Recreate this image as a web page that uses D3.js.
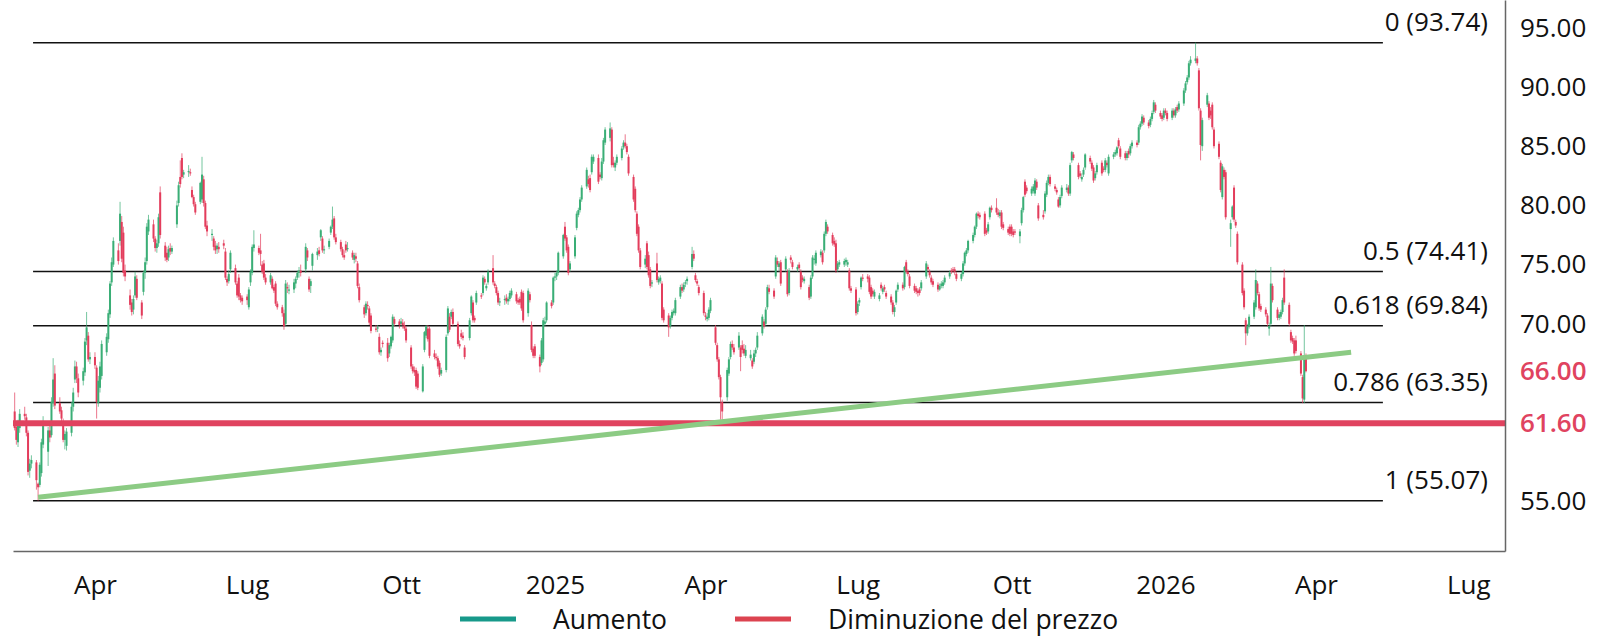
<!DOCTYPE html>
<html>
<head>
<meta charset="utf-8">
<script src="https://cdn.jsdelivr.net/npm/d3@7"></script>
<style>
  html, body { margin: 0; padding: 0; background: #fff; }
  #chart text { font-family: "Open Sans", "Noto Sans", sans-serif; }
</style>
</head>
<body>
<div id="chart"></div>
<script>
// daily candles, one array per month: [open, high, low, close]
const feb24 = [[62.6,64.2,61.0,61.2],[61.3,61.8,59.8,60.2],[60.0,61.9,59.6,61.5],[61.2,62.8,60.8,62.4],[62.4,63.0,61.9,62.2],[62.1,62.4,60.5,60.8],[60.8,61.0,57.2,57.5],[57.6,58.6,57.0,58.2],[58.2,58.9,57.8,58.5],[58.3,58.5,56.0,56.8],[56.5,56.6,55.07,56.2],[56.4,58.3,56.2,58.1],[57.4,60.3,57.1,60.0]];
const mar24 = [[59.8,62.2,59.5,61.5],[59.2,61.3,58.0,61.0],[61.0,61.8,60.0,60.4],[60.6,63.8,60.4,63.4],[63.3,67.1,63.0,65.3],[65.8,66.5,62.8,63.1],[63.3,63.8,62.4,62.6],[62.7,63.0,61.8,62.0],[61.6,62.0,60.0,60.2],[60.2,61.0,59.4,60.7],[59.7,61.2,59.3,60.9],[60.8,63.4,60.5,63.0],[63.0,64.6,62.6,64.2],[65.3,66.9,65.0,66.4],[66.4,66.8,65.0,65.4],[65.4,65.8,63.8,64.2],[65.2,66.3,64.8,66.0],[65.9,68.8,65.6,68.5],[68.6,71.0,68.2,69.7],[69.0,69.3,66.8,67.0],[67.0,67.6,66.6,67.2]];
const apr24 = [[67.2,67.6,66.2,66.5],[66.3,66.5,62.0,63.4],[63.3,65.6,63.0,65.2],[64.6,66.8,64.2,66.4],[65.6,68.6,65.3,68.3],[67.6,69.2,67.3,68.9],[68.7,71.2,68.4,70.9],[70.8,73.6,70.5,73.4],[73.5,75.6,73.2,75.2],[75.0,77.3,74.8,77.0],[76.2,76.8,75.0,75.3],[77.0,80.3,76.6,79.3],[78.6,79.1,75.2,75.5],[77.7,78.2,74.0,74.3],[74.5,75.0,73.6,74.0],[72.4,72.9,71.2,71.6],[71.8,72.1,70.7,71.0],[71.2,72.4,70.8,72.1],[72.4,74.4,72.2,74.0],[73.8,74.1,72.0,72.2],[71.8,72.0,70.4,70.7],[72.7,74.5,72.4,74.3]];
const may24 = [[74.3,75.6,73.8,75.2],[75.3,78.5,75.0,78.2],[77.8,79.2,77.5,78.8],[78.4,78.8,76.9,77.2],[77.2,77.4,76.1,76.4],[76.4,77.1,76.0,76.8],[76.8,79.3,76.5,79.0],[81.1,81.6,77.2,77.5],[76.6,76.9,75.3,75.6],[76.0,76.5,75.2,75.4],[75.6,76.6,75.3,76.3],[76.4,76.8,75.8,76.1],[76.1,76.6,75.9,76.4],[78.4,80.4,78.1,80.0],[80.2,82.0,79.9,81.7],[82.4,83.8,81.5,81.8],[84.0,84.4,82.2,82.4],[82.6,83.0,82.3,82.8],[82.8,83.4,82.4,82.9],[82.8,83.1,82.5,82.7],[81.3,81.6,80.6,80.7],[80.7,80.9,79.9,80.1],[80.1,80.3,79.2,79.4]];
const jun24 = [[80.3,82.0,80.1,81.9],[80.5,84.1,80.2,82.6],[82.2,82.5,79.9,80.2],[80.2,80.4,78.0,78.2],[78.3,78.7,77.4,77.8],[77.6,78.0,77.0,77.6],[77.2,77.4,76.2,76.5],[76.6,77.0,75.9,76.2],[76.3,76.8,75.9,76.6],[76.5,76.9,76.0,76.3],[76.8,77.1,76.3,76.6],[76.1,76.4,73.7,73.9],[73.8,74.0,73.2,73.5],[73.6,74.5,73.4,74.2],[74.6,76.2,74.3,76.0],[74.7,75.0,73.3,73.5],[73.4,73.6,72.2,72.4],[73.9,74.2,72.0,72.3],[72.4,72.6,71.8,72.0],[72.2,72.4,71.6,71.9]];
const jul24 = [[72.3,72.5,71.6,72.0],[71.4,73.1,71.2,72.9],[73.5,74.6,73.2,74.4],[74.3,76.7,74.1,76.5],[76.4,77.9,76.1,76.7],[76.4,76.6,75.8,76.0],[76.2,77.6,74.9,75.9],[75.0,75.3,74.2,74.4],[75.1,75.4,73.7,73.9],[73.9,74.2,73.3,73.5],[73.5,74.3,73.3,74.1],[73.8,74.0,72.9,73.0],[73.1,73.3,72.6,72.8],[73.4,73.6,71.5,71.7],[71.7,71.9,71.2,71.4],[71.4,71.6,70.6,70.9],[70.9,71.2,69.5,69.8],[70.0,73.7,69.8,73.4],[73.1,73.5,72.6,73.0],[72.9,73.3,72.5,72.9],[72.9,73.8,72.6,73.5],[73.4,74.0,73.0,73.8],[73.9,74.5,73.7,74.3]];
const aug24 = [[74.3,74.8,73.9,74.5],[74.5,75.0,74.0,74.3],[74.6,76.8,74.3,76.5],[76.2,76.4,75.3,75.6],[73.8,74.0,72.7,72.9],[73.2,73.8,72.6,73.6],[74.9,76.0,74.5,75.9],[75.8,76.4,75.4,76.1],[76.2,76.5,75.7,75.9],[77.3,78.0,77.0,77.9],[77.2,77.4,76.0,76.2],[76.2,76.6,75.9,76.3],[76.5,77.2,76.3,77.0],[77.7,78.3,77.5,78.2],[78.2,79.9,78.0,78.8],[78.9,79.1,77.1,77.3],[77.3,77.6,76.7,76.9],[76.9,77.1,76.1,76.3],[76.3,76.5,75.6,75.8],[75.8,76.2,75.4,75.6],[76.7,77.0,76.0,76.2],[76.3,76.9,76.1,76.4]];
const sep24 = [[76.0,76.2,75.4,75.6],[75.4,76.0,75.1,75.8],[75.7,76.0,75.2,75.5],[75.1,75.3,73.0,73.2],[73.1,73.4,71.8,72.0],[71.4,71.6,70.5,70.8],[70.9,71.9,70.7,71.7],[71.6,71.9,71.2,71.5],[71.3,71.5,69.9,70.1],[70.7,70.9,69.2,69.4],[69.6,69.9,69.3,69.5],[69.6,69.9,69.3,69.7],[68.9,69.2,67.4,67.6],[67.6,68.0,67.3,67.8],[68.4,68.6,68.0,68.3],[68.4,68.8,66.8,67.1],[67.5,68.4,67.2,68.2],[68.1,69.0,67.9,68.9],[68.6,70.8,68.4,70.6],[70.4,70.6,69.8,70.0],[70.2,70.4,69.6,69.9]];
const oct24 = [[70.0,70.5,69.8,70.2],[70.1,70.4,69.6,69.9],[69.9,70.2,69.4,69.6],[69.6,69.8,68.4,68.6],[68.0,68.2,66.2,66.4],[66.4,66.6,65.8,66.0],[66.1,66.4,65.6,65.9],[66.1,66.3,64.5,64.7],[65.8,66.0,64.4,64.6],[64.3,66.6,64.2,66.4],[67.8,69.4,67.6,69.3],[69.0,69.9,68.8,69.8],[69.6,69.9,68.5,68.7],[69.6,69.8,67.1,67.3],[67.5,67.8,67.0,67.2],[67.2,67.5,66.9,67.1],[67.1,67.3,66.2,66.4],[66.7,66.9,65.5,65.7],[65.8,66.3,65.6,66.1],[66.1,69.1,65.9,68.9],[69.2,71.5,69.0,71.3],[70.6,70.9,69.3,69.5],[70.6,71.2,70.4,71.0]];
const nov24 = [[71.0,71.3,69.8,70.0],[70.0,70.2,68.1,68.3],[68.3,68.6,67.9,68.1],[69.2,69.5,68.7,68.9],[69.0,69.3,68.6,68.8],[68.0,68.2,67.0,67.2],[68.8,70.5,68.6,70.3],[70.9,72.4,70.7,72.3],[71.8,72.0,70.1,70.3],[70.5,70.7,70.1,70.3],[71.8,72.8,71.6,72.6],[72.4,72.6,72.1,72.3],[72.6,74.1,72.4,73.9],[73.8,74.0,73.3,73.5],[73.0,73.4,72.8,73.2],[73.5,74.6,73.3,74.4],[74.7,75.8,73.3,73.5],[73.4,73.6,73.0,73.2],[73.1,73.3,72.4,72.6],[72.6,72.8,71.6,71.8],[71.8,72.2,71.5,71.9]];
const dec24 = [[72.0,72.4,71.6,72.1],[72.2,72.5,71.7,71.9],[71.9,72.3,71.6,72.1],[72.1,72.8,71.9,72.6],[72.4,73.0,72.2,72.8],[72.5,72.7,71.7,71.9],[72.0,72.2,71.6,71.8],[72.1,72.3,71.6,71.8],[72.7,72.9,71.1,71.3],[72.6,72.8,70.1,70.3],[70.9,73.0,70.6,72.8],[72.5,72.7,71.8,72.0],[69.9,70.2,67.6,67.8],[67.9,68.1,67.1,67.3],[68.1,68.3,67.1,67.3],[67.2,67.4,65.9,66.4],[66.7,68.8,66.5,68.6],[67.0,70.5,66.8,70.3],[70.0,70.6,69.8,70.2],[70.3,71.9,70.1,71.8],[71.8,72.0,71.3,71.5],[71.8,74.0,71.6,73.9]];
const jan25 = [[73.9,74.3,73.6,74.0],[74.0,74.5,73.7,74.3],[74.3,76.1,74.1,76.0],[75.7,77.6,75.5,77.5],[78.2,78.6,77.0,77.2],[77.3,77.5,76.0,76.2],[76.5,76.7,74.1,74.3],[74.6,75.3,74.4,75.1],[75.7,77.5,75.5,77.3],[78.1,79.5,77.9,79.3],[79.2,79.8,79.0,79.6],[79.6,80.7,79.4,80.5],[80.5,81.7,80.3,81.5],[81.6,83.2,81.4,83.0],[82.2,82.5,81.5,81.8],[82.3,82.6,81.1,81.3],[82.8,84.3,82.6,84.1],[83.7,84.3,83.5,84.1],[84.0,84.3,81.8,82.0],[82.6,82.8,82.2,82.4],[82.3,84.0,82.1,83.7],[83.7,85.7,83.5,85.5],[85.3,86.6,85.1,86.4]];
const feb25 = [[85.7,87.0,85.4,86.5],[86.4,86.6,83.2,83.4],[83.6,84.1,83.2,83.4],[83.2,83.8,82.9,83.6],[83.6,84.3,83.4,84.1],[84.0,85.0,83.8,84.8],[84.9,85.5,84.7,85.3],[85.3,86.0,84.8,85.0],[85.0,85.2,84.3,84.5],[84.1,84.3,82.5,82.7],[82.4,82.6,80.3,80.5],[81.4,81.6,79.4,79.6],[79.3,79.5,77.4,77.6],[78.2,78.4,76.0,76.2],[76.2,76.4,74.6,74.8],[75.0,75.8,74.7,75.5],[76.8,77.0,74.6,74.8],[75.8,76.1,73.9,74.1],[74.6,74.8,73.0,73.2],[73.4,73.7,73.1,73.5]];
const mar25 = [[75.1,76.0,73.5,73.7],[73.5,74.0,73.3,73.8],[73.6,74.1,73.4,73.9],[73.4,73.6,70.3,70.5],[71.2,71.4,70.1,70.3],[70.7,70.9,68.9,69.7],[69.8,70.7,69.6,70.5],[70.5,71.2,70.3,71.0],[70.9,71.3,70.7,71.1],[70.9,72.2,70.7,72.0],[72.3,73.3,72.1,73.1],[73.1,73.4,72.6,72.8],[72.9,73.5,72.7,73.3],[73.4,73.7,73.1,73.5],[73.6,74.0,73.3,73.8],[74.8,76.5,74.6,75.9],[75.9,76.2,75.3,75.5],[74.1,74.3,73.5,73.7],[73.6,73.8,73.2,73.4],[73.1,73.3,72.4,72.6],[72.6,72.8,70.7,70.9]];
const apr25 = [[70.7,71.0,70.3,70.6],[70.4,70.9,70.2,70.6],[70.5,71.4,70.3,71.2],[71.1,72.2,70.9,72.0],[69.7,69.9,68.2,68.4],[68.2,68.4,66.8,67.0],[67.0,67.2,65.3,65.5],[65.5,65.7,61.9,63.8],[63.4,63.6,61.5,62.6],[63.8,66.3,63.5,66.1],[65.8,67.2,65.6,67.0],[67.2,68.5,67.0,68.3],[68.3,68.6,67.8,68.0],[68.0,68.3,67.4,67.6],[68.0,69.3,67.8,69.0],[68.0,68.2,66.0,67.2],[68.2,68.6,67.5,67.8],[67.9,68.3,67.3,67.5],[67.3,68.2,67.1,67.8],[67.1,67.8,66.9,67.4],[66.9,67.1,66.2,66.4],[66.8,67.8,66.6,67.5]];
const may25 = [[67.5,68.0,67.2,67.8],[68.0,69.3,67.8,69.0],[69.2,70.8,69.0,70.6],[70.2,70.4,69.6,69.8],[70.0,71.4,69.8,71.2],[71.4,73.3,71.2,73.1],[73.0,73.3,72.5,72.7],[72.8,73.0,72.1,72.3],[74.0,75.8,73.8,75.6],[75.3,75.6,74.8,75.0],[74.8,75.3,74.4,75.1],[75.2,75.4,73.2,73.4],[74.6,75.7,74.4,75.5],[74.4,74.6,72.3,72.5],[72.6,74.7,72.4,74.5],[75.6,75.8,75.1,75.4],[75.2,75.4,74.6,74.8],[74.6,75.0,74.4,74.8],[75.0,75.2,74.5,74.7],[74.4,74.6,72.9,73.1],[73.9,74.1,73.5,73.7],[73.6,74.0,73.4,73.8]];
const jun25 = [[73.1,73.3,72.0,72.2],[72.3,74.1,72.1,73.9],[74.0,75.8,73.8,75.6],[75.4,75.8,75.0,75.5],[75.1,76.2,74.9,76.0],[75.8,76.3,75.6,76.1],[76.0,76.2,75.0,75.2],[76.2,77.8,76.0,77.6],[77.6,78.8,77.4,78.6],[78.2,78.4,77.6,77.8],[77.5,77.7,76.6,76.8],[77.0,77.3,76.5,76.7],[76.8,77.1,74.3,74.5],[74.6,75.3,74.4,75.1],[75.0,75.4,74.8,75.2],[75.0,75.5,74.8,75.3],[75.2,75.6,74.9,75.4],[75.0,75.4,74.8,75.2],[74.5,74.7,72.8,73.0],[73.0,73.2,72.6,72.8],[72.9,73.1,70.7,70.9]];
const jul25 = [[71.0,71.9,70.8,71.7],[71.8,72.2,71.5,72.0],[73.1,74.0,72.9,73.9],[73.9,74.2,73.6,73.8],[74.0,74.2,73.5,73.8],[73.9,74.1,72.5,72.7],[73.1,73.3,72.1,72.3],[72.8,73.0,72.3,72.5],[72.3,72.9,72.1,72.7],[72.1,72.6,71.9,72.4],[73.3,73.5,72.8,73.0],[72.7,73.2,72.5,73.0],[73.1,73.3,72.7,72.9],[72.6,72.8,72.1,72.3],[72.3,72.5,71.6,71.8],[71.8,72.0,70.8,71.0],[71.0,71.6,70.6,71.4],[71.8,72.9,71.6,72.8],[72.9,73.5,72.7,73.3],[73.3,73.5,72.8,73.0],[73.1,74.9,72.9,74.8],[75.2,75.4,74.2,74.4],[74.4,74.6,74.0,74.2]];
const aug25 = [[74.0,74.2,73.0,73.2],[73.2,73.4,72.6,72.8],[73.0,73.2,72.5,72.7],[72.8,73.0,72.3,72.6],[72.9,73.1,72.4,72.6],[73.0,73.7,72.8,73.5],[74.0,75.3,73.8,75.1],[74.8,75.0,74.4,74.6],[74.4,74.6,73.9,74.1],[73.9,74.1,73.3,73.5],[73.6,73.8,73.1,73.3],[73.3,73.5,72.7,72.9],[72.9,73.4,72.8,73.2],[73.2,73.6,73.0,73.4],[73.2,73.7,73.0,73.5],[73.5,74.1,73.3,73.9],[74.0,74.5,73.8,74.3],[74.5,74.7,74.2,74.4],[74.6,74.8,74.3,74.5],[74.6,74.8,74.1,74.4],[74.2,74.4,73.6,73.8]];
const sep25 = [[73.8,74.4,73.6,74.2],[74.2,75.3,74.0,75.1],[75.1,76.1,74.9,76.0],[75.9,76.4,75.7,76.2],[76.2,77.1,76.0,77.0],[77.0,77.7,76.8,77.5],[77.5,78.3,77.3,78.2],[78.2,79.4,78.0,79.3],[79.3,79.5,78.9,79.1],[79.2,79.4,78.8,79.0],[79.3,79.5,77.4,77.6],[77.9,78.1,77.5,77.7],[77.8,78.6,77.6,78.4],[79.0,79.9,78.8,79.8],[79.8,80.0,79.4,79.6],[79.8,80.6,79.2,79.4],[79.4,79.7,79.0,79.2],[79.1,79.6,78.9,79.4],[79.4,79.6,78.0,78.2],[78.4,78.6,77.9,78.1],[78.0,78.2,77.5,77.7],[78.2,78.4,77.4,77.6]];
const oct25 = [[78.2,78.4,77.4,77.6],[77.8,78.0,77.3,77.5],[77.8,78.0,77.5,77.7],[77.4,78.0,76.8,77.8],[78.5,79.8,78.3,79.6],[79.6,80.8,79.4,80.7],[82.0,82.2,80.7,80.9],[81.5,81.7,81.0,81.2],[81.0,81.6,80.8,81.4],[81.2,81.8,81.0,81.6],[81.0,82.3,80.8,82.1],[82.0,82.2,81.3,81.5],[80.0,80.2,78.7,78.9],[79.2,79.6,78.8,79.0],[79.5,81.2,79.3,81.0],[80.9,82.1,80.7,81.9],[81.9,82.6,81.7,82.4],[82.4,82.6,81.6,81.8],[81.6,81.8,81.2,81.4],[81.3,81.5,80.9,81.1],[80.5,80.7,79.8,79.9],[80.0,80.9,79.8,80.7],[80.8,81.7,80.6,81.5]];
const nov25 = [[81.3,81.8,81.1,81.5],[81.5,81.7,80.8,81.0],[81.0,83.6,80.8,83.4],[83.8,84.6,83.6,84.5],[84.3,84.5,83.8,84.0],[83.4,83.6,82.2,82.4],[82.7,82.9,82.3,82.5],[82.2,82.7,82.0,82.4],[82.6,83.2,82.4,83.0],[83.2,84.4,83.0,84.3],[84.0,84.2,83.5,83.7],[83.6,83.8,82.9,83.1],[83.2,83.4,81.9,82.1],[82.3,82.9,82.1,82.7],[82.8,83.6,82.6,83.4],[83.6,83.8,82.5,82.7],[83.1,83.3,82.8,83.0],[83.0,84.0,82.8,83.8],[83.6,83.8,83.2,83.4],[82.7,84.3,82.5,84.1]];
const dec25 = [[84.1,84.5,83.9,84.3],[84.3,84.7,84.1,84.5],[84.4,85.0,84.2,84.9],[85.5,85.7,84.8,85.0],[84.8,85.0,83.9,84.1],[84.4,84.6,83.8,84.0],[84.0,84.6,83.8,84.4],[84.6,84.8,84.0,84.3],[84.4,85.2,84.2,85.0],[85.0,85.5,84.8,85.3],[85.3,85.5,84.9,85.1],[85.3,86.8,85.1,86.6],[86.6,87.1,86.4,86.9],[86.9,87.7,86.7,87.5],[87.4,87.6,86.8,87.0],[87.0,87.2,86.5,86.7],[86.8,87.5,86.6,87.3],[87.3,88.0,87.1,87.8],[87.9,88.9,87.7,88.7],[88.5,88.7,87.8,88.0],[87.8,88.0,87.3,87.5],[87.6,87.8,87.1,87.3],[87.4,88.2,87.2,88.0]];
const jan26 = [[88.0,88.2,87.6,87.8],[87.8,88.0,87.1,87.3],[87.4,88.2,87.2,88.0],[88.0,88.2,87.4,87.6],[87.6,88.3,87.4,88.1],[88.3,88.5,87.8,88.0],[88.1,88.8,87.9,88.6],[88.6,89.9,88.4,89.7],[89.7,90.5,89.5,90.3],[90.4,91.0,90.2,90.8],[90.8,92.2,90.6,92.0],[92.0,92.6,91.8,92.3],[92.2,93.74,92.0,92.4],[92.4,92.6,91.8,92.0],[91.4,91.6,88.0,88.2],[88.0,88.2,83.8,85.1],[85.0,87.4,84.6,87.2],[88.5,89.5,88.3,89.3],[88.6,88.8,87.2,87.4],[88.0,88.3,87.3,87.6],[88.5,88.7,86.4,86.6],[86.4,86.6,84.8,85.0]];
const feb26 = [[85.2,85.4,83.9,84.1],[83.6,83.8,81.1,81.3],[80.7,83.5,80.5,83.3],[83.0,83.2,82.2,82.4],[82.8,83.0,78.8,79.0],[78.0,78.8,76.5,78.5],[79.0,80.0,78.8,79.9],[81.5,81.7,78.6,78.8],[78.6,78.8,78.1,78.3],[77.6,77.8,75.0,75.2],[75.0,75.2,72.4,72.6],[72.8,73.0,71.2,71.4],[70.3,70.5,68.2,69.2],[69.2,70.0,69.0,69.8],[69.8,70.8,69.6,70.6],[70.6,72.0,70.4,71.8],[71.4,74.6,71.2,73.7],[73.4,73.6,72.4,72.6],[72.5,72.7,71.1,71.3],[71.5,71.7,71.0,71.2]];
const mar26 = [[71.2,71.4,70.6,70.8],[70.7,70.9,69.8,70.0],[69.6,70.1,69.0,69.8],[70.0,74.8,69.8,73.4],[73.2,73.4,71.8,72.0],[71.2,71.4,70.3,70.5],[70.5,71.0,70.3,70.8],[70.6,71.2,70.4,71.0],[71.0,72.2,70.8,72.0],[73.9,74.6,71.6,71.8],[71.6,71.8,69.8,70.0],[69.3,69.5,68.4,68.6],[68.8,69.0,68.3,68.5],[68.6,68.8,67.3,67.5],[68.6,69.0,67.5,67.7],[67.5,67.7,65.6,65.8],[65.5,65.7,63.3,63.7],[63.6,69.9,63.3,67.1],[67.2,67.5,65.9,66.0]];

// first trading day of each month block
const monthStarts = ["2024-02-13","2024-03-01","2024-04-01","2024-05-01","2024-06-01","2024-07-01","2024-08-01","2024-09-01","2024-10-01","2024-11-01","2024-12-01",
  "2025-01-01","2025-02-01","2025-03-01","2025-04-01","2025-05-01","2025-06-01","2025-07-01","2025-08-01","2025-09-01","2025-10-01","2025-11-01","2025-12-01",
  "2026-01-01","2026-02-01","2026-03-01"];
const monthBlocks = [feb24,mar24,apr24,may24,jun24,jul24,aug24,sep24,oct24,nov24,dec24,
  jan25,feb25,mar25,apr25,may25,jun25,jul25,aug25,sep25,oct25,nov25,dec25,
  jan26,feb26,mar26];

// fibonacci retracement
const fibRatios = ["0", "0.5", "0.618", "0.786", "1"];
const fibPrices = [93.74, 74.41, 69.84, 63.35, 55.07];
const fibSpan = ["2024-02-24", "2026-05-11"];

// trend line and levels
const trendDates = ["2024-02-27", "2026-04-22"];
const trendPrices = [55.35, 67.6];
const levelPrice = 61.6;
const lastPrice = 66.0;

// axes
const xTickDates = ["2024-04-01","2024-07-01","2024-10-01","2025-01-01","2025-04-01","2025-07-01","2025-10-01","2026-01-01","2026-04-01","2026-07-01"];
const xTickLabels = ["Apr","Lug","Ott","2025","Apr","Lug","Ott","2026","Apr","Lug"];
const yTicks = [55, 70, 75, 80, 85, 90, 95];

const legendLabels = ["Aumento", "Diminuzione del prezzo"];
const legendColors = ["#17998a", "#dc4350"];

const upColor = "#3aae76", downColor = "#e33d5c", levelColor = "#e0435f";

const parse = d3.timeParse("%Y-%m-%d");

const candles = [];
monthStarts.forEach(function(s, i) {
  const d = parse(s);
  monthBlocks[i].forEach(function(r) {
    while (d.getDay() === 0 || d.getDay() === 6) d.setDate(d.getDate() + 1);
    candles.push({date: new Date(d), o: r[0], h: r[1], l: r[2], c: r[3]});
    d.setDate(d.getDate() + 1);
  });
});

const w = 1600, h = 640;
const svg = d3.select("#chart").append("svg").attr("width", w).attr("height", h);

const xScale = d3.scaleTime()
  .domain([parse("2024-02-12"), parse("2026-07-23")])
  .range([13, 1505]);
const yScale = d3.scaleLinear()
  .domain([50.82, 97.34])
  .range([551, 0]);

// fib lines + labels
const fib = svg.append("g");
fibPrices.forEach(function(p, i) {
  fib.append("line")
    .attr("x1", xScale(parse(fibSpan[0]))).attr("x2", xScale(parse(fibSpan[1])))
    .attr("y1", yScale(p)).attr("y2", yScale(p))
    .attr("stroke", "#111").attr("stroke-width", 1.5);
  fib.append("text")
    .attr("x", 1488).attr("y", yScale(p) - 12)
    .attr("text-anchor", "end")
    .attr("font-size", 26).attr("fill", "#111")
    .text(fibRatios[i] + " (" + p.toFixed(2) + ")");
});

// candles
const cg = svg.append("g");
cg.selectAll("line")
  .data(candles).enter().append("line")
  .attr("x1", d => xScale(d.date)).attr("x2", d => xScale(d.date))
  .attr("y1", d => yScale(d.h)).attr("y2", d => yScale(d.l))
  .attr("stroke", d => d.c >= d.o ? upColor : downColor)
  .attr("stroke-width", 1)
  .attr("stroke-opacity", 0.7);
cg.selectAll("rect")
  .data(candles).enter().append("rect")
  .attr("x", d => xScale(d.date) - 1)
  .attr("width", 2)
  .attr("y", d => yScale(Math.max(d.o, d.c)))
  .attr("height", d => Math.max(1.2, Math.abs(yScale(d.o) - yScale(d.c))))
  .attr("fill", d => d.c >= d.o ? upColor : downColor);

// support level
svg.append("line")
  .attr("x1", 13).attr("x2", 1505)
  .attr("y1", yScale(levelPrice)).attr("y2", yScale(levelPrice))
  .attr("stroke", levelColor).attr("stroke-width", 6);

// trend line
svg.append("line")
  .attr("x1", xScale(parse(trendDates[0]))).attr("y1", yScale(trendPrices[0]))
  .attr("x2", xScale(parse(trendDates[1]))).attr("y2", yScale(trendPrices[1]))
  .attr("stroke", "#8ccb84").attr("stroke-width", 5);

// x axis
const xAxis = d3.axisBottom(xScale)
  .tickValues(xTickDates.map(parse))
  .tickFormat((d, i) => xTickLabels[i])
  .tickSize(0).tickSizeOuter(0).tickPadding(25);
const gx = svg.append("g").attr("transform", "translate(0,551)").call(xAxis);
gx.attr("font-family", null).attr("font-size", 26);
gx.select(".domain").attr("stroke", "#666").attr("stroke-width", 1.5);
gx.selectAll("text").attr("fill", "#111");

// y axis (right)
const yAxis = d3.axisRight(yScale)
  .tickValues(yTicks)
  .tickFormat(d3.format(".2f"))
  .tickSize(0).tickSizeOuter(0).tickPadding(15);
const gy = svg.append("g").attr("transform", "translate(1505,0)").call(yAxis);
gy.attr("font-family", null).attr("font-size", 26);
gy.select(".domain").attr("stroke", "#666").attr("stroke-width", 1.5);
gy.selectAll("text").attr("fill", "#111");

[lastPrice, levelPrice].forEach(function(p) {
  svg.append("text")
    .attr("x", 1520).attr("y", yScale(p)).attr("dy", "0.35em")
    .attr("font-size", 26).attr("font-weight", 600)
    .attr("fill", levelColor)
    .text(p.toFixed(2));
});

// legend
const legX = [460, 735], legTextX = [553, 828];
legendLabels.forEach(function(t, i) {
  svg.append("line")
    .attr("x1", legX[i]).attr("x2", legX[i] + 56)
    .attr("y1", 619).attr("y2", 619)
    .attr("stroke", legendColors[i]).attr("stroke-width", 5);
  svg.append("text")
    .attr("x", legTextX[i]).attr("y", 629)
    .attr("font-size", 26.5).attr("fill", "#111")
    .text(t);
});
</script>
</body>
</html>
